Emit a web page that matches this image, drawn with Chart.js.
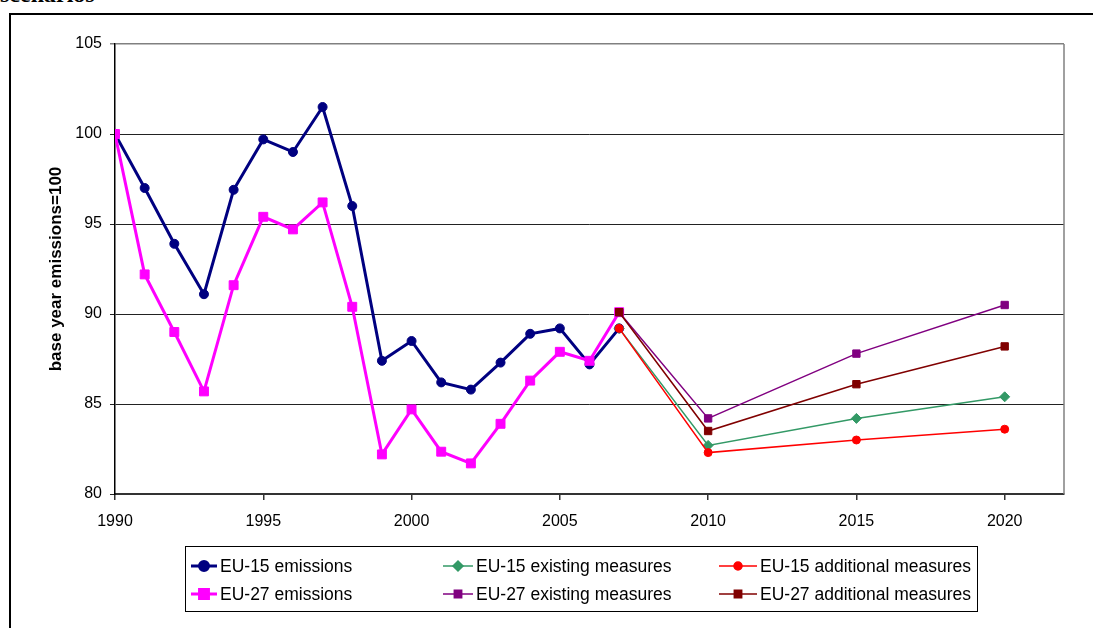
<!DOCTYPE html>
<html>
<head>
<meta charset="utf-8">
<script src="https://cdn.jsdelivr.net/npm/chart.js@4/dist/chart.umd.min.js"></script>
<style>
  html, body { margin: 0; padding: 0; background: #fff; }
  #wrap { position: relative; width: 1093px; height: 628px; overflow: hidden; }
  #caption { position: absolute; left: 0; top: -18px; font: bold 24px "Liberation Serif", serif; line-height: 24px; color: #000; }
  #frame { position: absolute; left: 9px; top: 13px; width: 1100px; height: 700px; border-top: 2px solid #000; border-left: 2px solid #000; }
  #emChart { position: absolute; left: 0; top: 0; }
</style>
</head>
<body>
<div id="wrap">
  <div id="caption">scenarios</div>
  <div id="frame"></div>
  <canvas id="emChart" width="1093" height="628"></canvas>
</div>
<script>
// historic years and projection years
const histYears = [1990, 1991, 1992, 1993, 1994, 1995, 1996, 1997, 1998, 1999, 2000, 2001, 2002, 2003, 2004, 2005, 2006, 2007];
const projYears = [2007, 2010, 2015, 2020];

const eu15Emissions = [100, 97.0, 93.9, 91.1, 96.9, 99.7, 99.0, 101.5, 96.0, 87.4, 88.5, 86.2, 85.8, 87.3, 88.9, 89.2, 87.2, 89.2];
const eu27Emissions = [100, 92.2, 89.0, 85.7, 91.6, 95.4, 94.7, 96.2, 90.4, 82.2, 84.7, 82.35, 81.7, 83.9, 86.3, 87.9, 87.4, 90.1];

const eu15Existing   = [89.2, 82.7, 84.2, 85.4];
const eu15Additional = [89.2, 82.3, 83.0, 83.6];
const eu27Existing   = [90.1, 84.2, 87.8, 90.5];
const eu27Additional = [90.1, 83.5, 86.1, 88.2];

const yTicks = [80, 85, 90, 95, 100, 105];
const xTicks = [1990, 1995, 2000, 2005, 2010, 2015, 2020];

const FONT = '"Liberation Sans", Arial, sans-serif';

function toPoints(years, values) {
  return years.map((yr, i) => ({ x: yr, y: values[i] }));
}

function series(label, years, values, color, style, radius, width, order) {
  return {
    label: label,
    data: toPoints(years, values),
    borderColor: color,
    backgroundColor: color,
    borderWidth: width,
    pointStyle: style,
    pointRadius: radius,
    pointBorderWidth: 1,
    pointHoverRadius: radius,
    tension: 0,
    fill: false,
    order: order
  };
}

const datasets = [
  series('EU-15 emissions', histYears, eu15Emissions, '#000080', 'circle', 4.5, 3, 6),
  series('EU-15 existing measures', projYears, eu15Existing, '#339966', 'rectRot', 5, 1.5, 4),
  series('EU-15 additional measures', projYears, eu15Additional, '#ff0000', 'circle', 4, 1.5, 3),
  series('EU-27 emissions', histYears, eu27Emissions, '#ff00ff', 'rect', 6.3, 3, 5),
  series('EU-27 existing measures', projYears, eu27Existing, '#800080', 'rect', 5.2, 1.5, 2),
  series('EU-27 additional measures', projYears, eu27Additional, '#800000', 'rect', 5.2, 1.5, 1)
];

// legend drawn by hand in 3 columns x 2 rows like the excel one
const boxLegend = {
  id: 'boxLegend',
  afterDraw(chart) {
    const ctx = chart.ctx;
    const area = chart.chartArea;
    ctx.save();
    // plot area right border
    ctx.strokeStyle = '#808080';
    ctx.lineWidth = 1.5;
    ctx.beginPath();
    ctx.moveTo(area.right, area.top);
    ctx.lineTo(area.right, area.bottom);
    ctx.stroke();

    ctx.strokeStyle = '#000';
    ctx.lineWidth = 1;
    ctx.strokeRect(185.5, 546.5, 792, 65);

    const colX = [191, 443, 719];
    const textX = [220, 476, 760];
    const rowY = [566, 594];
    ctx.font = '17.5px ' + FONT;
    ctx.textBaseline = 'middle';
    chart.data.datasets.forEach((ds, i) => {
      const col = i % 3;
      const row = Math.floor(i / 3);
      const y = rowY[row];
      ctx.strokeStyle = ds.borderColor;
      ctx.lineWidth = ds.borderWidth;
      ctx.beginPath();
      ctx.moveTo(colX[col], y);
      ctx.lineTo(textX[col] - 3, y);
      ctx.stroke();
      ctx.fillStyle = ds.backgroundColor;
      Chart.helpers.drawPoint(ctx, {
        pointStyle: ds.pointStyle,
        radius: ds.pointRadius,
        borderWidth: 1,
        rotation: 0
      }, (colX[col] + textX[col] - 3) / 2, y);
      ctx.fillStyle = '#000';
      ctx.fillText(ds.label, textX[col], y + 1);
    });
    ctx.restore();
  }
};

new Chart(document.getElementById('emChart').getContext('2d'), {
  type: 'line',
  data: { datasets: datasets },
  options: {
    responsive: false,
    animation: false,
    layout: { padding: { left: 44, top: 44, right: 29, bottom: 94 } },
    plugins: {
      legend: { display: false },
      tooltip: { enabled: false }
    },
    scales: {
      x: {
        type: 'linear',
        min: 1990,
        max: 2022,
        afterFit: s => { s.height = 40; },
        afterBuildTicks: s => { s.ticks = xTicks.map(v => ({ value: v })); },
        ticks: {
          autoSkip: false,
          maxRotation: 0,
          padding: 12,
          color: '#000',
          font: { family: FONT, size: 16 },
          callback: v => String(v)
        },
        grid: { drawOnChartArea: false, drawTicks: true, tickLength: 6, color: '#333', lineWidth: 1.5 },
        border: { display: true, color: '#333', width: 2 }
      },
      y: {
        min: 80,
        max: 105,
        afterFit: s => { s.width = 71; },
        afterBuildTicks: s => { s.ticks = yTicks.map(v => ({ value: v })); },
        ticks: {
          padding: 8,
          color: '#000',
          font: { family: FONT, size: 16 }
        },
        title: {
          display: true,
          text: 'base year emissions=100',
          color: '#000',
          padding: { top: 2, bottom: 2 },
          font: { family: FONT, size: 17, weight: 'bold' }
        },
        grid: {
          color: ctx => (ctx.tick && ctx.tick.value === 105 ? '#808080' : '#222'),
          lineWidth: ctx => (ctx.tick && ctx.tick.value === 105 ? 1.5 : 1),
          tickLength: 5
        },
        border: { display: true, color: '#000', width: 1.5 }
      }
    }
  },
  plugins: [boxLegend]
});
</script>
</body>
</html>
